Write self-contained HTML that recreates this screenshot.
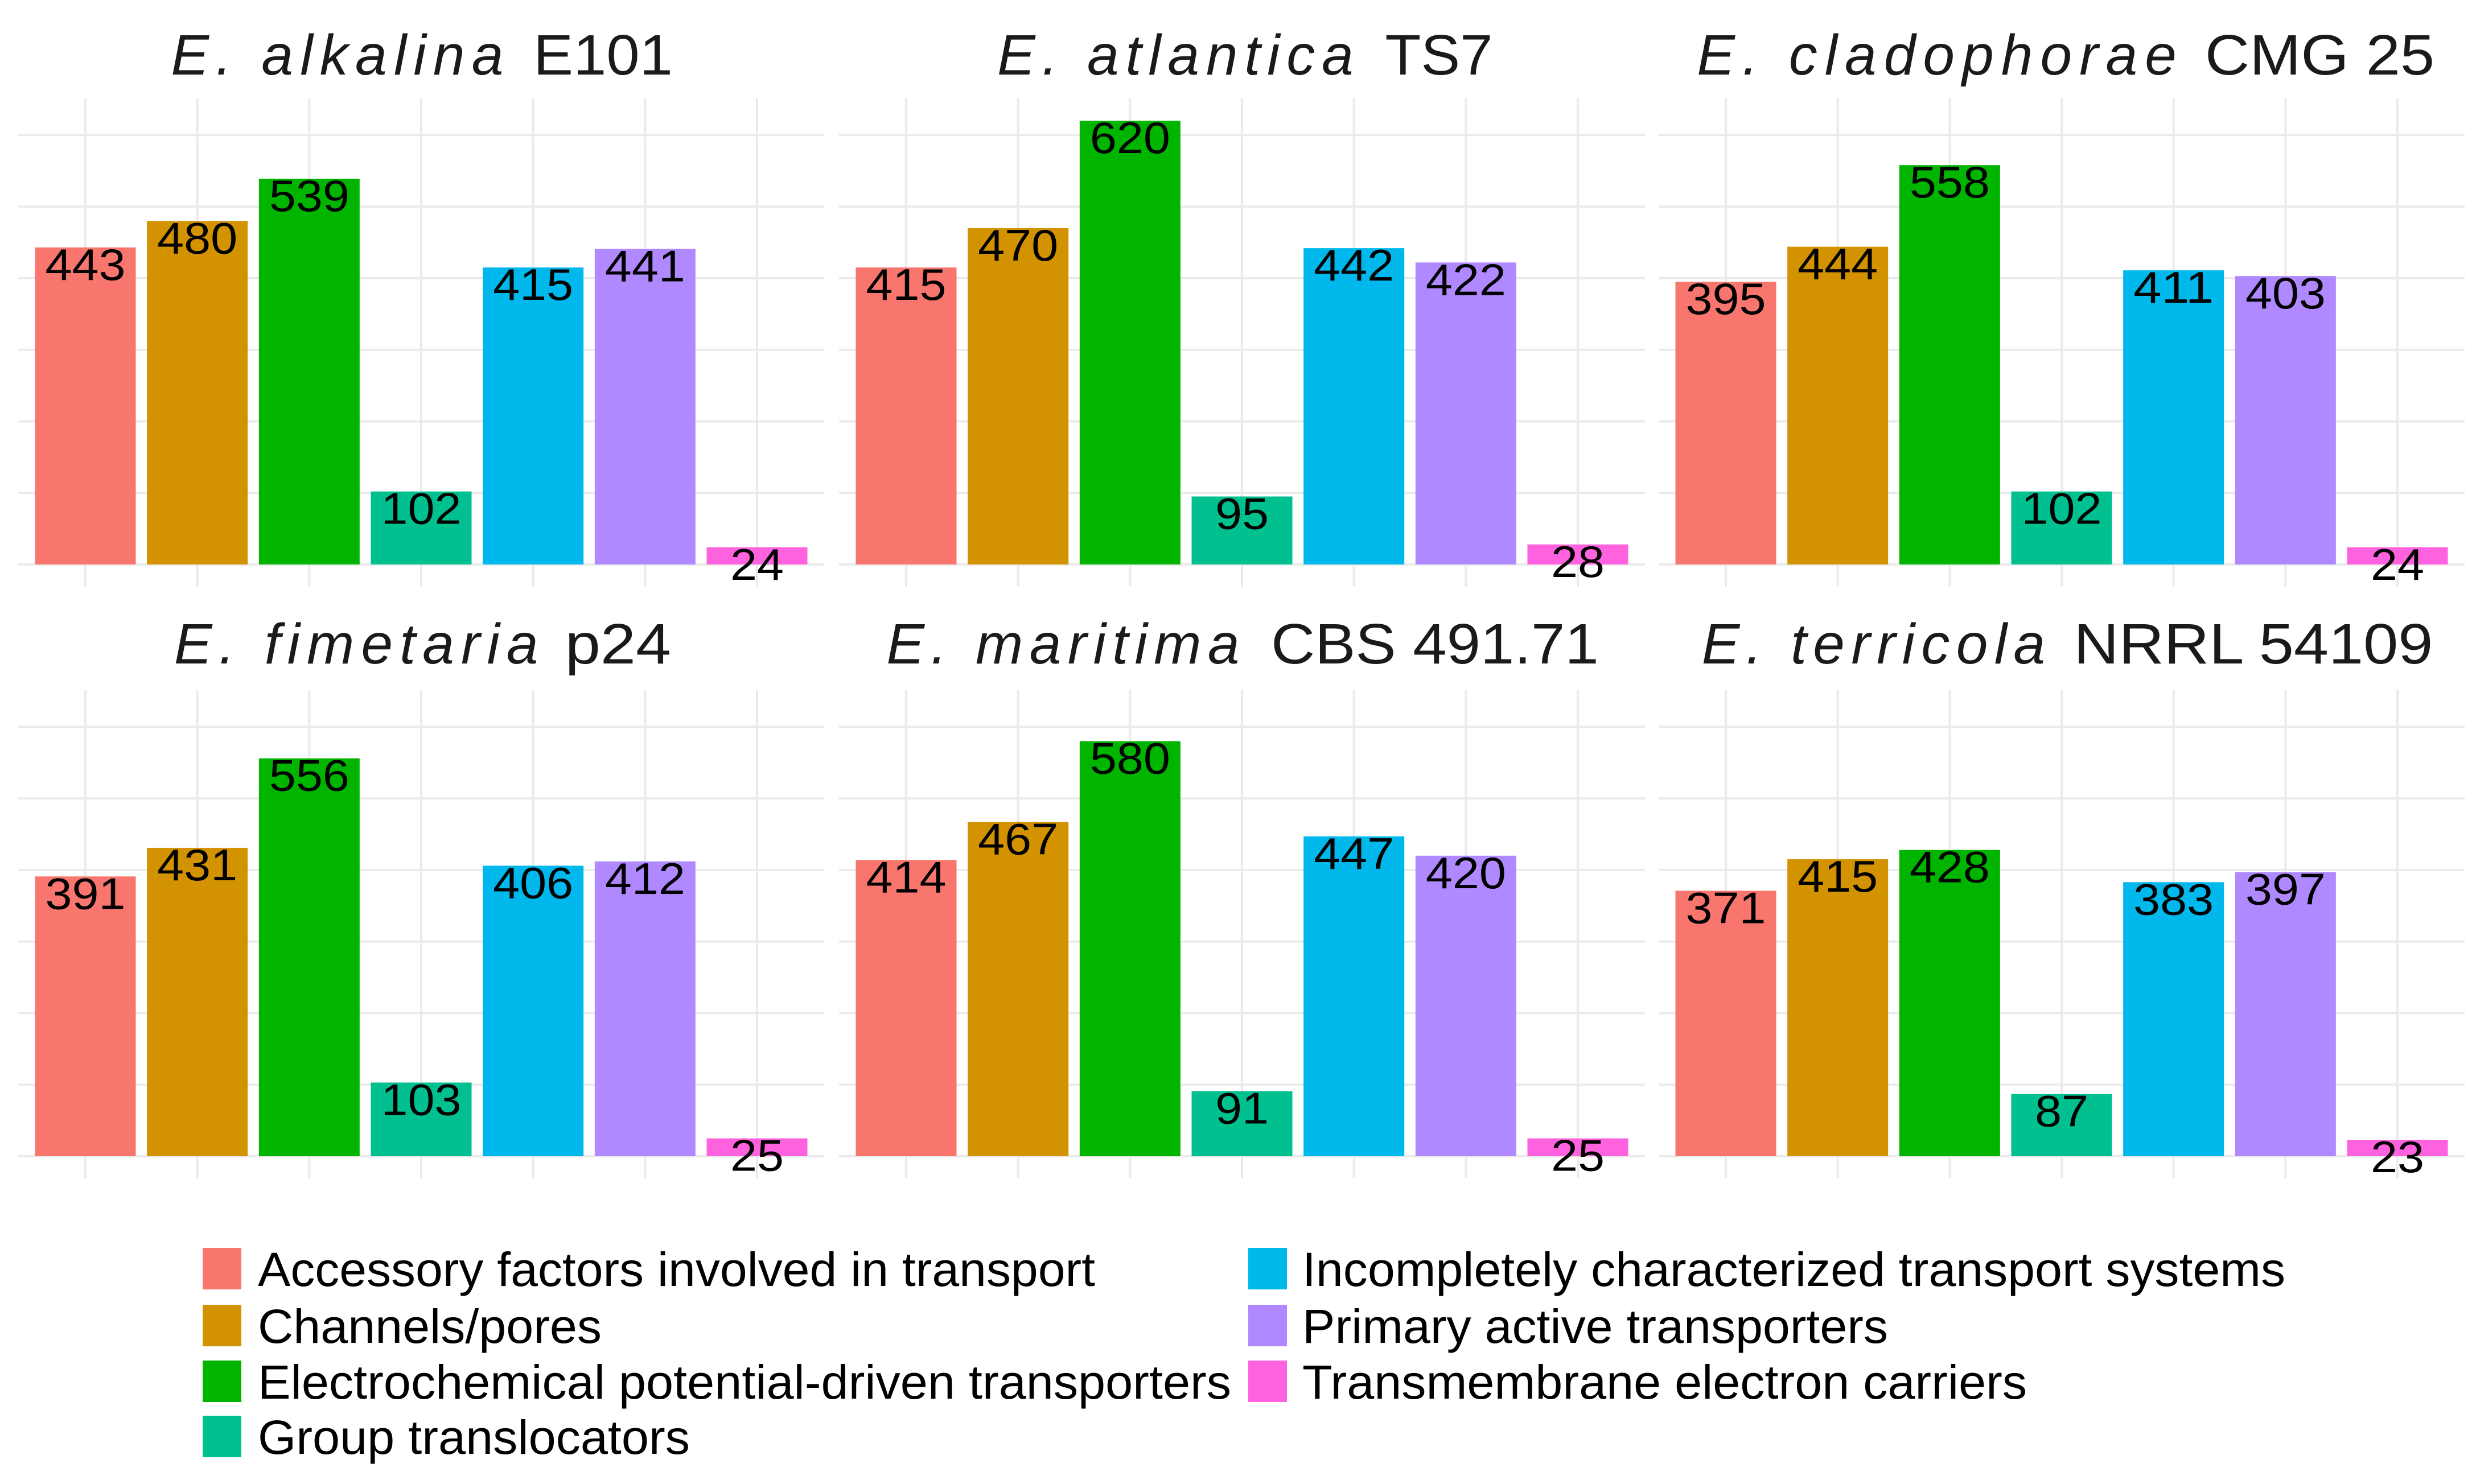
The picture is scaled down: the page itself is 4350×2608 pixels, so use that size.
<!DOCTYPE html>
<html><head><meta charset="utf-8">
<style>
html,body{margin:0;padding:0;background:#fff;}
svg{display:block;font-family:"Liberation Sans",Arial,sans-serif;}
</style></head>
<body>
<svg id="chart" width="4350" height="2608" viewBox="0 0 4350 2608" xmlns="http://www.w3.org/2000/svg">
<g id="panels"></g>
<g id="legend"></g>
</svg>
<script>
const categories = ["Accessory factors involved in transport","Channels/pores","Electrochemical potential-driven transporters","Group translocators","Incompletely characterized transport systems","Primary active transporters","Transmembrane electron carriers"];
const species = ["E. alkalina","E. atlantica","E. cladophorae","E. fimetaria","E. maritima","E. terricola"];
const strains = ["E101","TS7","CMG 25","p24","CBS 491.71","NRRL 54109"];
const valsAlkalina = [443,480,539,102,415,441,24];
const valsAtlantica = [415,470,620,95,442,422,28];
const valsCladophorae = [395,444,558,102,411,403,24];
const valsFimetaria = [391,431,556,103,406,412,25];
const valsMaritima = [414,467,580,91,447,420,25];
const valsTerricola = [371,415,428,87,383,397,23];
const seriesValues = [valsAlkalina,valsAtlantica,valsCladophorae,valsFimetaria,valsMaritima,valsTerricola];
const gridTicks = [0,100,200,300,400,500,600];

const colors = ["#F8766D","#D39200","#00B400","#00C08F","#00B8EC","#B088FF","#FF62DE"];
const NS = "http://www.w3.org/2000/svg";
const S = 2.781;
// title layout (preview px): italic start/end, normal start/end
const titleLayout = [[108,318,337,425],[630,855,875,943],[1072,1375,1393,1538],[110,340,357,424],[560,783,803,1010],[1075,1292,1310,1537]];

const panelLefts = [32,1474,2914];
const panelW = 1416;
const rowTops = [172,1212];
const panelH = 859;
const yMin = -31, yMax = 652;
function yScale(v, row){ return rowTops[row] + panelH*(yMax - v)/(yMax - yMin); }
function xCenter(i, col){ const step = panelW/(categories.length - 1 + 1.2); return panelLefts[col] + step*(0.6 + i); }
const barW = 0.9*panelW/(categories.length + 0.2);

function mk(tag, attrs, parent){ const e=document.createElementNS(NS,tag); for(const k in attrs) e.setAttribute(k,attrs[k]); parent.appendChild(e); return e; }

const panels = document.getElementById('panels');
seriesValues.forEach((vals, p) => {
  const row = Math.floor(p/3), col = p%3;
  const g = mk('g',{},panels);
  
  
  // grid
  gridTicks.forEach(t => {
    const y = yScale(t,row);
    const l = mk('line',{x1:panelLefts[col],x2:panelLefts[col]+panelW,y1:y,y2:y,stroke:'#EBEBEB','stroke-width':4},g);
    
    
  });
  categories.forEach((c,i) => {
    const x = xCenter(i,col);
    const l = mk('line',{x1:x,x2:x,y1:rowTops[row],y2:rowTops[row]+panelH,stroke:'#EBEBEB','stroke-width':4},g);
    
    
  });
  // bars
  vals.forEach((v,i) => {
    const x = xCenter(i,col), y0 = yScale(0,row), y1 = yScale(v,row);
    const r = mk('rect',{x:x-barW/2,y:y1,width:barW,height:y0-y1,fill:colors[i]},g);
    
    
    const s = String(v);
    const t = mk('text',{x:x,y:y1+57,'text-anchor':'middle','font-size':78,fill:'#000',textLength:s.length*47,lengthAdjust:'spacingAndGlyphs'},g);
    t.textContent = s;
    
    
  });
  // title
  const ty = row===0 ? 131 : 1166;
  const L = titleLayout[p];
  const ti = mk('text',{x:L[0]*S,y:ty,'font-size':100,'font-style':'italic',fill:'#1a1a1a',textLength:(L[1]-L[0])*S,lengthAdjust:'spacing'},g);
  ti.textContent = species[p];
  
  
  const tn = mk('text',{x:L[2]*S,y:ty,'font-size':100,fill:'#1a1a1a',textLength:(L[3]-L[2])*S,lengthAdjust:'spacingAndGlyphs'},g);
  tn.textContent = strains[p];
  
  
});

// legend
const legend = document.getElementById('legend');
const legendWidths = [1471,604,1710,759,1727,1029,1273];
const legendRowY = [2193,2293,2391,2488];
categories.forEach((c,i) => {
  const colIdx = i<4 ? 0 : 1, r = i<4 ? i : i-4;
  const kx = colIdx===0 ? 356 : 2193;
  const tx = colIdx===0 ? 453 : 2288;
  const y = legendRowY[r];
  const g = mk('g',{},legend);
  
  
  const k = mk('rect',{x:kx,y:y,width:68,height:73,fill:colors[i]},g);
  
  
  const t = mk('text',{x:tx,y:y+67,'font-size':84,fill:'#000',textLength:legendWidths[i],lengthAdjust:'spacingAndGlyphs'},g);
  t.textContent = c;
  
  
});
</script>
</body></html>
